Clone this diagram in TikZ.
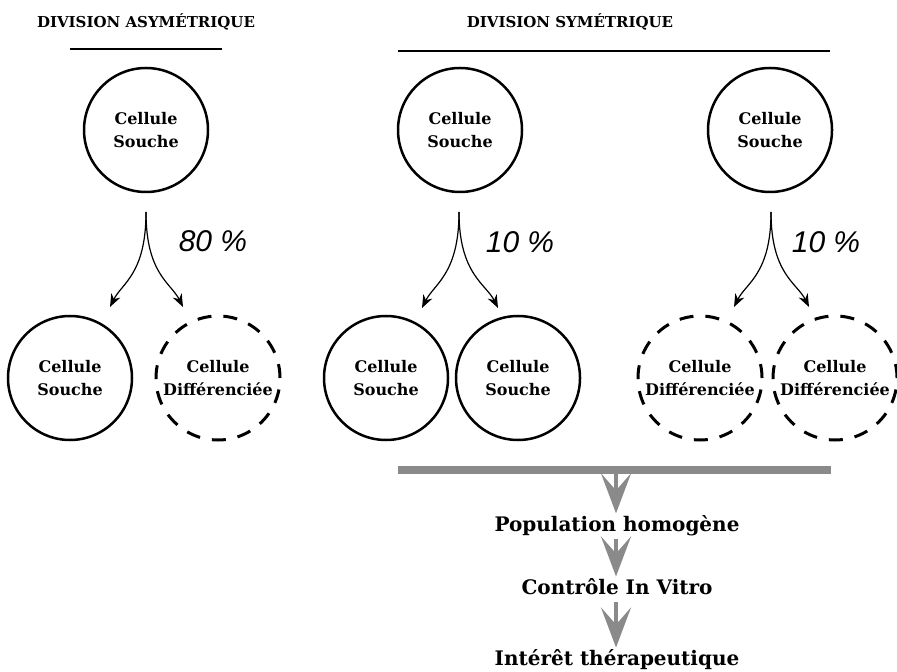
\documentclass[tikz,border=0pt]{standalone}
\usepackage{fontspec}
\setmainfont{DejaVu Serif}
\newfontfamily\pctfont{Liberation Sans}
\usepackage{xcolor}
\definecolor{Black}{RGB}{0,0,0}
\definecolor{Gray}{RGB}{138,138,138}
\definecolor{White}{RGB}{255,255,255}
\usetikzlibrary{arrows.meta}

\tikzset{
	cell/.style={circle, draw=Black, line width=1.25pt, minimum size=62pt, inner sep=0pt,
		align=center, font=\fontsize{8}{11.5}\selectfont\bfseries},
	celldiff/.style={cell, line width=1.5pt, dash pattern=on 7pt off 6pt},
	title/.style={font=\fontsize{7.5}{9}\selectfont\bfseries},
	pct/.style={font=\fontsize{15}{17}\selectfont\pctfont\itshape},
	fork/.style={line width=0.6pt, -{Stealth[length=6.5pt, width=5pt]}},
	result/.style={inner sep=1pt, font=\fontsize{10}{12}\selectfont\bfseries},
	grayarrow/.style={draw=Gray, line width=2pt, -{Stealth[length=20pt, width=15pt, inset=8.5pt]}, color=Gray}
}

\begin{document}
\begin{tikzpicture}[x=0.5pt, y=-0.5pt]
		
		\useasboundingbox[fill=White] (0,0) rectangle (897,672);
		
		% Titles
		\node[title] (tasym) at (146,22) {DIVISION ASYMÉTRIQUE};
		\node[title] (tsym) at (570,22) {DIVISION SYMÉTRIQUE};
		\draw[line width=0.6pt] (70,49) -- (222,49);
		\draw[line width=0.6pt] (398,51) -- (830,51);
		
		% Mother cells
		\node[cell] (mA) at (146,130) {Cellule\\Souche};
		\node[cell] (mB) at (460,130) {Cellule\\Souche};
		\node[cell] (mC) at (770,130) {Cellule\\Souche};
		
		% Daughter cells
		\node[cell] (dA1) at (70,378) {Cellule\\Souche};
		\node[celldiff] (dA2) at (218,378) {Cellule\\Différenciée};
		\node[cell] (dB1) at (386,378) {Cellule\\Souche};
		\node[cell] (dB2) at (518,378) {Cellule\\Souche};
		\node[celldiff] (dC1) at (700,378) {Cellule\\Différenciée};
		\node[celldiff] (dC2) at (835,378) {Cellule\\Différenciée};
		
		% Forks
		\coordinate (apexA) at (146,212);
		\coordinate (apexB) at (459,212);
		\coordinate (apexC) at (771,212);
		\coordinate (tipA1) at (110,307);
		\coordinate (tipA2) at (183,307);
		\coordinate (tipB1) at (422,308);
		\coordinate (tipB2) at (498,308);
		\coordinate (tipC1) at (734,307);
		\coordinate (tipC2) at (809,307);
		\draw[fork] (apexA) .. controls +(0,62) and +(12,-24) .. (tipA1);
		\draw[fork] (apexA) .. controls +(0,62) and +(-12,-24) .. (tipA2);
		\draw[fork] (apexB) .. controls +(0,62) and +(12,-24) .. (tipB1);
		\draw[fork] (apexB) .. controls +(0,62) and +(-12,-24) .. (tipB2);
		\draw[fork] (apexC) .. controls +(0,62) and +(12,-24) .. (tipC1);
		\draw[fork] (apexC) .. controls +(0,62) and +(-12,-24) .. (tipC2);
		
		% Percentages
		\node[pct] (pA) at (213,241) {80 \%};
		\node[pct] (pB) at (520,242) {10 \%};
		\node[pct] (pC) at (826,242) {10 \%};
		
		% Bar
		\coordinate (barL) at (398,470);
		\coordinate (barR) at (831,470);
		\coordinate (barM) at (616,470);
		\draw[Gray, line width=4pt] (barL) -- (barR);
		
		% Results
		\node[result] (popu) at (617,526) {Population homogène};
		\node[result] (ctrl) at (617,587) {Contrôle In Vitro};
		\node[result] (inter) at (617,660) {Intérêt thérapeutique};
		\draw[grayarrow] (barM) -- (popu.north -| barM);
		\draw[grayarrow] (popu.south -| barM) -- (ctrl.north -| barM);
		\draw[grayarrow] (ctrl.south -| barM) ++(0,4) -- (inter.north -| barM);
		
	\end{tikzpicture}
\end{document}
